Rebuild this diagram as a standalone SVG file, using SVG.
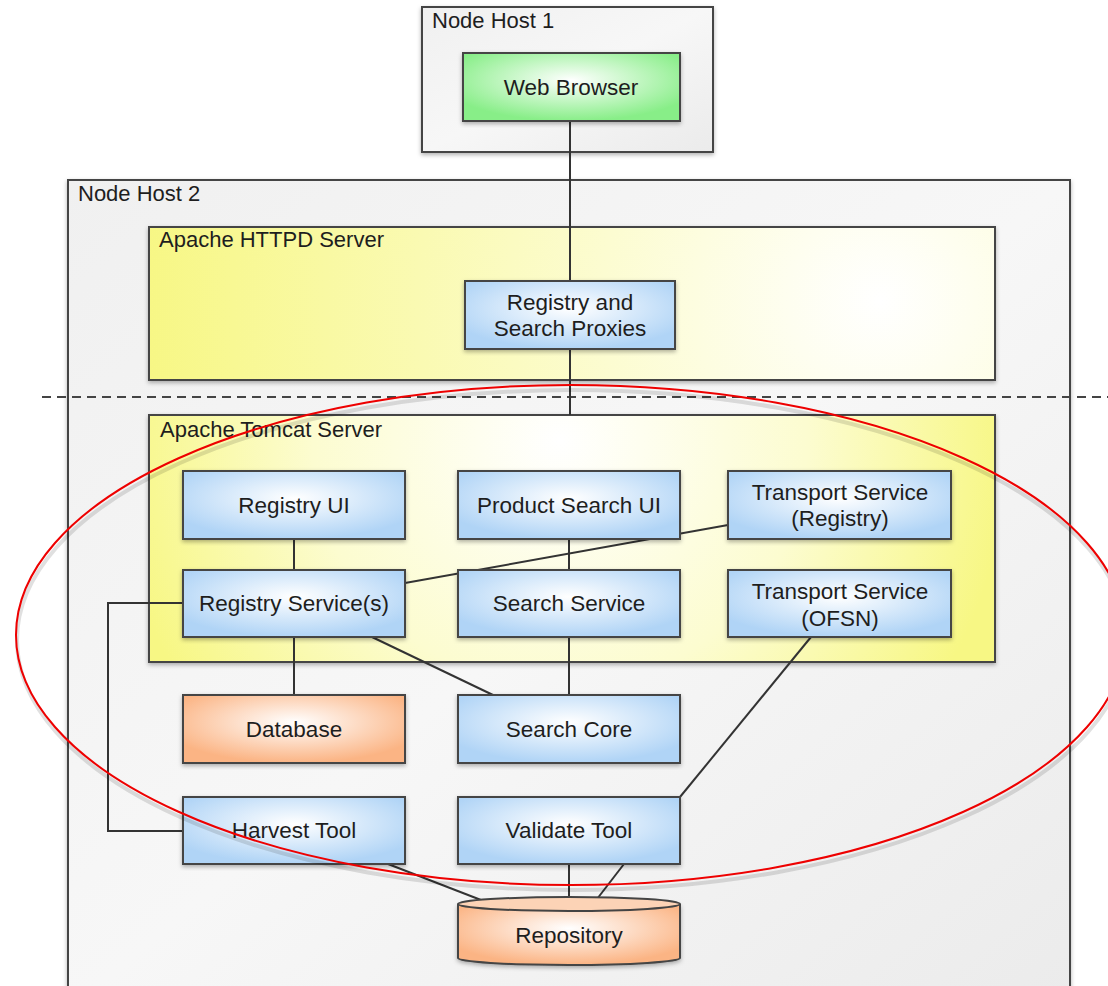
<svg xmlns="http://www.w3.org/2000/svg" width="1108" height="986" viewBox="0 0 1108 986">
<style>
text{font-family:"Liberation Sans",Arial,sans-serif;font-size:22px;fill:#1e1e1e}
.lbl{text-anchor:middle;font-size:22.5px}
.box{stroke:#444;stroke-width:2}
.c{stroke:#333;stroke-width:2;fill:none}
</style>
<defs>
<linearGradient id="gray" x1="0" y1="0" x2="1" y2="1"><stop offset="0" stop-color="#f0f0f0"/><stop offset="0.5" stop-color="#f7f7f7"/><stop offset="1" stop-color="#ebebeb"/></linearGradient>
<radialGradient id="blue" cx="0.5" cy="0.4" r="0.6"><stop offset="0" stop-color="#ffffff"/><stop offset="1" stop-color="#b0d4f6"/></radialGradient>
<radialGradient id="green" cx="0.5" cy="0.4" r="0.6"><stop offset="0" stop-color="#ffffff"/><stop offset="1" stop-color="#88ee88"/></radialGradient>
<radialGradient id="orange" cx="0.5" cy="0.4" r="0.6"><stop offset="0" stop-color="#ffffff"/><stop offset="1" stop-color="#fbb484"/></radialGradient>
<radialGradient id="yellow1" gradientUnits="userSpaceOnUse" cx="880" cy="300" r="740"><stop offset="0" stop-color="#ffffff"/><stop offset="1" stop-color="#f7f784"/></radialGradient>
<radialGradient id="yellow2" gradientUnits="userSpaceOnUse" cx="560" cy="440" r="450"><stop offset="0" stop-color="#ffffff"/><stop offset="0.55" stop-color="#fcfcd0"/><stop offset="1" stop-color="#f7f784"/></radialGradient>
<filter id="sh" x="-5%" y="-5%" width="110%" height="115%"><feDropShadow dx="0" dy="2" stdDeviation="2" flood-color="#000" flood-opacity="0.3"/></filter>
</defs>

<g id="node-host-1">
<rect x="422" y="7" width="291" height="145" fill="url(#gray)" class="box" filter="url(#sh)"/>
<text x="432" y="28">Node Host 1</text>
</g>
<g id="node-host-2">
<rect x="68" y="180" width="1002" height="830" fill="url(#gray)" class="box" filter="url(#sh)"/>
<text x="78" y="201">Node Host 2</text>
</g>
<g id="apache-httpd">
<rect x="149" y="227" width="846" height="153" fill="url(#yellow1)" class="box" filter="url(#sh)"/>
<text x="159" y="247">Apache HTTPD Server</text>
</g>
<g id="apache-tomcat">
<rect x="149" y="415" width="846" height="247" fill="url(#yellow2)" class="box" filter="url(#sh)"/>
<text x="160" y="437">Apache Tomcat Server</text>
</g>

<line x1="42" y1="397" x2="1108" y2="397" stroke="#444" stroke-width="2" stroke-dasharray="9,6"/>

<g id="connectors">
<line class="c" x1="570" y1="121" x2="570" y2="281"/>
<line class="c" x1="570" y1="349" x2="570" y2="415"/>
<line class="c" x1="294" y1="539" x2="294" y2="570"/>
<line class="c" x1="569" y1="539" x2="569" y2="570"/>
<line class="c" x1="728" y1="525" x2="405" y2="583"/>
<line class="c" x1="294" y1="637" x2="294" y2="695"/>
<line class="c" x1="372" y1="637" x2="493" y2="695"/>
<line class="c" x1="569" y1="637" x2="569" y2="695"/>
<line class="c" x1="811" y1="637" x2="680" y2="797"/>
<polyline class="c" points="183,603 108,603 108,831 183,831"/>
<line class="c" x1="388" y1="864" x2="481" y2="900"/>
<line class="c" x1="569" y1="864" x2="569" y2="899"/>
<line class="c" x1="624" y1="864" x2="597" y2="899"/>
</g>

<g id="web-browser">
<rect x="463" y="53" width="217" height="68" fill="url(#green)" class="box" filter="url(#sh)"/>
<text class="lbl" x="571" y="95">Web Browser</text>
</g>
<g id="proxies">
<rect x="465" y="281" width="210" height="68" fill="url(#blue)" class="box" filter="url(#sh)"/>
<text class="lbl" x="570" y="310">Registry and</text>
<text class="lbl" x="570" y="336">Search Proxies</text>
</g>
<g id="registry-ui">
<rect x="183" y="471" width="222" height="68" fill="url(#blue)" class="box" filter="url(#sh)"/>
<text class="lbl" x="294" y="513">Registry UI</text>
</g>
<g id="product-search-ui">
<rect x="458" y="471" width="222" height="68" fill="url(#blue)" class="box" filter="url(#sh)"/>
<text class="lbl" x="569" y="513">Product Search UI</text>
</g>
<g id="transport-registry">
<rect x="728" y="471" width="223" height="68" fill="url(#blue)" class="box" filter="url(#sh)"/>
<text class="lbl" x="840" y="500">Transport Service</text>
<text class="lbl" x="840" y="526">(Registry)</text>
</g>
<g id="registry-service">
<rect x="183" y="570" width="222" height="67" fill="url(#blue)" class="box" filter="url(#sh)"/>
<text class="lbl" x="294" y="611">Registry Service(s)</text>
</g>
<g id="search-service">
<rect x="458" y="570" width="222" height="67" fill="url(#blue)" class="box" filter="url(#sh)"/>
<text class="lbl" x="569" y="611">Search Service</text>
</g>
<g id="transport-ofsn">
<rect x="728" y="570" width="223" height="67" fill="url(#blue)" class="box" filter="url(#sh)"/>
<text class="lbl" x="840" y="599">Transport Service</text>
<text class="lbl" x="840" y="626">(OFSN)</text>
</g>
<g id="database">
<rect x="183" y="695" width="222" height="68" fill="url(#orange)" class="box" filter="url(#sh)"/>
<text class="lbl" x="294" y="737">Database</text>
</g>
<g id="search-core">
<rect x="458" y="695" width="222" height="68" fill="url(#blue)" class="box" filter="url(#sh)"/>
<text class="lbl" x="569" y="737">Search Core</text>
</g>
<g id="harvest-tool">
<rect x="183" y="797" width="222" height="67" fill="url(#blue)" class="box" filter="url(#sh)"/>
<text class="lbl" x="294" y="838">Harvest Tool</text>
</g>
<g id="validate-tool">
<rect x="458" y="797" width="222" height="67" fill="url(#blue)" class="box" filter="url(#sh)"/>
<text class="lbl" x="569" y="838">Validate Tool</text>
</g>
<g id="repository">
<path d="M458,904 L458,958 A111,7 0 0 0 680,958 L680,904" fill="url(#orange)" class="box" filter="url(#sh)"/>
<ellipse cx="569" cy="904" rx="111" ry="7" fill="#fcd3b6" class="box"/>
<text class="lbl" x="569" y="943">Repository</text>
</g>

<ellipse cx="571" cy="637" rx="555" ry="250" fill="none" stroke="#000" stroke-opacity="0.12" stroke-width="4" transform="translate(1,3)"/>
<ellipse cx="571" cy="635" rx="555" ry="250" fill="none" stroke="#ee0000" stroke-width="2"/>
</svg>
